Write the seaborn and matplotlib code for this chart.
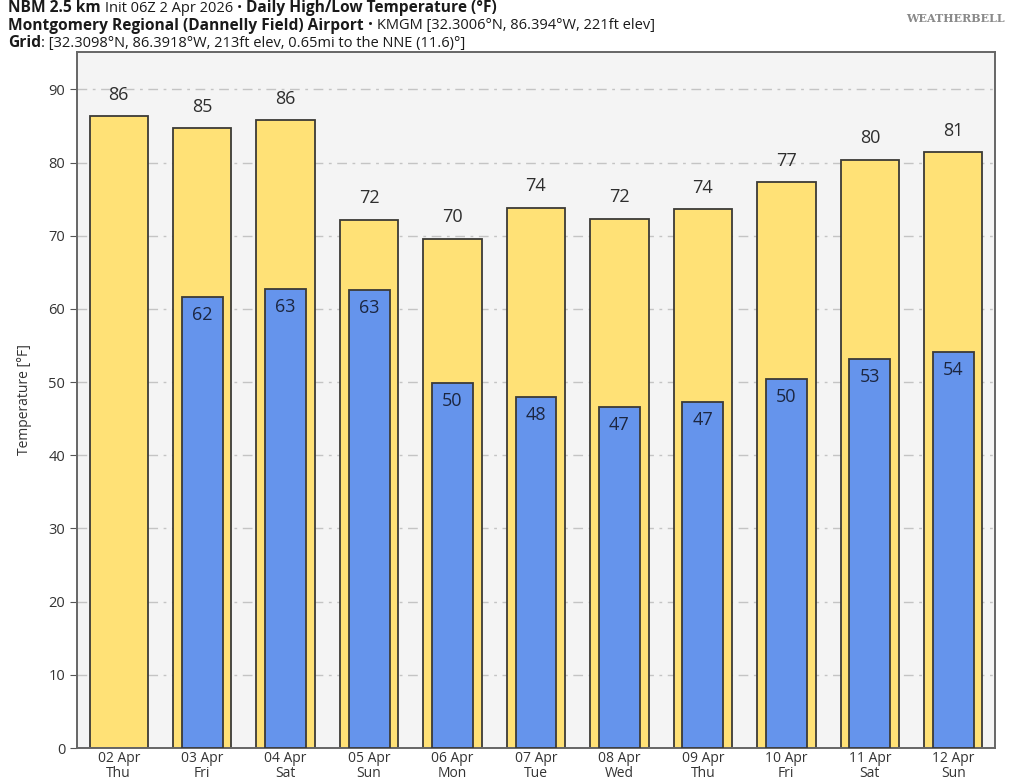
import numpy as np
import pandas as pd
import seaborn as sns
from matplotlib import pyplot as plt

# daily forecast values
dates = ["02 Apr", "03 Apr", "04 Apr", "05 Apr", "06 Apr", "07 Apr",
         "08 Apr", "09 Apr", "10 Apr", "11 Apr", "12 Apr"]
weekdays = ["Thu", "Fri", "Sat", "Sun", "Mon", "Tue", "Wed", "Thu", "Fri", "Sat", "Sun"]
highs = [86.35, 84.7, 85.8, 72.2, 69.6, 73.8, 72.3, 73.6, 77.3, 80.4, 81.4]
lows = [np.nan, 61.6, 62.7, 62.6, 49.9, 48.0, 46.6, 47.3, 50.4, 53.1, 54.1]

df = pd.DataFrame({"date": dates, "high": highs, "low": lows})

sns.set_style("ticks")
plt.rcParams["font.family"] = ["Open Sans", "DejaVu Sans"]

fig = plt.figure(figsize=(10.24, 7.81), dpi=100)
ax = fig.add_axes([77 / 1024, 33 / 781, 918 / 1024, 696 / 781])
ax.set_facecolor("#f4f4f4")

yellow = "#ffe176"
blue = "#6594ec"
edge = "#3b3a36"

sns.barplot(data=df, x="date", y="high", order=dates, width=0.7, color=yellow,
            saturation=1, edgecolor=edge, linewidth=1.3, ax=ax, zorder=2)
sns.barplot(data=df, x="date", y="low", order=dates, width=0.49, color=blue,
            saturation=1, edgecolor=edge, linewidth=1.3, ax=ax, zorder=3)

for i, v in enumerate(highs):
    ax.annotate(f"{round(v)}", (i, v), xytext=(0, 9), textcoords="offset points",
                ha="center", va="bottom", fontsize=13, color="#2e2e2e", zorder=4)
for i, v in enumerate(lows):
    if np.isnan(v):
        continue
    ax.annotate(f"{round(v)}", (i, v), xytext=(0, -6.5), textcoords="offset points",
                ha="center", va="top", fontsize=13, color="#1c2640", zorder=4)

ax.set_xlim(-0.5, 10.5)
ax.set_ylim(0, 95.1)
ax.set_yticks(range(0, 91, 10))
ax.set_xticks(range(len(dates)))
ax.set_xticklabels([d + "\n" + w for d, w in zip(dates, weekdays)], fontsize=10,
                   color="#333333", linespacing=1.0)
ax.tick_params(axis="y", labelsize=10.5, labelcolor="#333333", length=5, color="#555555")
ax.tick_params(axis="x", length=0, pad=2)
ax.grid(axis="y", color="#c4c4c4", linestyle=(0, (7, 4, 2, 4)), linewidth=1, zorder=0)
ax.set_axisbelow(True)
ax.set_xlabel("")
ax.set_ylabel("Temperature [°F]", fontsize=10, color="#333333", labelpad=12)
for s in ax.spines.values():
    s.set_color("#666666")
    s.set_linewidth(1.4)
    s.set_visible(True)

# header lines with mixed weights
fig.canvas.draw()
renderer = fig.canvas.get_renderer()


def header(y, pieces):
    x = 8 / 1024
    for txt, weight in pieces:
        size = 11.2 if weight == "bold" else 10.5
        t = fig.text(x, y, txt, fontsize=size, fontweight=weight, color="#1a1a1a",
                     ha="left", va="center")
        bb = t.get_window_extent(renderer)
        x += bb.width / fig.bbox.width


header(1 - 8 / 781, [("NBM 2.5 km ", "bold"), ("Init 06Z 2 Apr 2026 • ", "normal"),
                      ("Daily High/Low Temperature (°F)", "bold")])
header(1 - 25.5 / 781, [("Montgomery Regional (Dannelly Field) Airport", "bold"),
                         (" • KMGM [32.3006°N, 86.394°W, 221ft elev]", "normal")])
header(1 - 43 / 781, [("Grid", "bold"),
                       (": [32.3098°N, 86.3918°W, 213ft elev, 0.65mi to the NNE (11.6)°]", "normal")])

fig.text(955 / 1024, 1 - 18 / 781, "WEATHERBELL", fontsize=8, color="#8a8a8a",
         family="DejaVu Serif", ha="center", va="center", fontweight="bold")

fig.savefig("out.png", dpi=100)
